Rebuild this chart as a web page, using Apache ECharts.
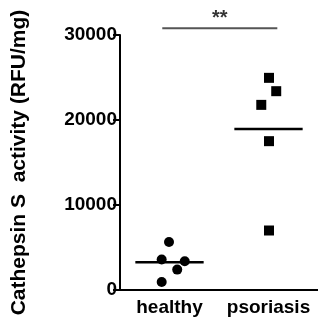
<!DOCTYPE html>
<html>
<head>
<meta charset="utf-8">
<script src="https://cdn.jsdelivr.net/npm/echarts@6/dist/echarts.min.js"></script>
<style>
  html, body { margin: 0; padding: 0; background: #fff; }
  #canvas { width: 318px; height: 321px; }
</style>
</head>
<body>
<div id="canvas"></div>
<script>
// groups on the x axis
const groups = ["healthy", "psoriasis"];
// per-point values
const healthyValues = [5650, 3580, 3390, 2400, 950];
const psoriasisValues = [24960, 23390, 21780, 17510, 7000];
// horizontal jitter of each point (fraction of a category width)
const healthyJitter = [0.495, 0.421, 0.654, 0.578, 0.421];
const psoriasisJitter = [1.505, 1.578, 1.427, 1.505, 1.505];
// group medians
const medians = [3270, 18930];
// significance bar
const sigFrom = 0.427, sigTo = 1.589, sigLevel = 30800, sigText = "**";

const font = "Liberation Sans, Arial, Helvetica, sans-serif";
const myChart = window.echarts.init(document.querySelector("#canvas"));

const medianSeries = medians.map((m, i) => ({
  type: "line",
  xAxisIndex: 1,
  symbol: "none",
  silent: true,
  lineStyle: { color: "#000", width: 2.5 },
  data: [[i + 0.5 - 0.345, m], [i + 0.5 + 0.345, m]]
}));

myChart.setOption({
  animation: false,
  grid: { left: 120, right: 0, top: 35, bottom: 31 },
  xAxis: [
    {
      type: "category",
      data: groups,
      axisLine: { lineStyle: { color: "#000", width: 2 } },
      axisTick: { alignWithLabel: true, length: 6, lineStyle: { color: "#000", width: 2 } },
      axisLabel: {
        interval: 0,
        hideOverlap: false,
        color: "#000", fontFamily: font, fontWeight: "bold", fontSize: 19, margin: 8
      }
    },
    { type: "value", min: 0, max: 2, show: false }
  ],
  yAxis: {
    type: "value",
    min: 0,
    max: 30000,
    interval: 10000,
    name: "Cathepsin S  activity (RFU/mg)",
    nameLocation: "middle",
    nameGap: 90,
    nameTextStyle: { color: "#000", fontFamily: font, fontWeight: "bold", fontSize: 21 },
    axisLine: { show: true, lineStyle: { color: "#000", width: 2 } },
    axisTick: { show: true, length: 7, lineStyle: { color: "#000", width: 2 } },
    axisLabel: {
      formatter: (v) => String(v),
      color: "#000", fontFamily: font, fontWeight: "bold", fontSize: 19, margin: 3
    },
    splitLine: { show: false }
  },
  series: [
    {
      type: "scatter",
      xAxisIndex: 1,
      symbol: "circle",
      symbolSize: 10,
      itemStyle: { color: "#000", opacity: 1 },
      data: healthyValues.map((v, i) => [healthyJitter[i], v])
    },
    {
      type: "scatter",
      xAxisIndex: 1,
      symbol: "rect",
      symbolSize: 10,
      itemStyle: { color: "#000", opacity: 1 },
      data: psoriasisValues.map((v, i) => [psoriasisJitter[i], v])
    },
    ...medianSeries,
    {
      type: "line",
      xAxisIndex: 1,
      symbol: "none",
      clip: false,
      lineStyle: { color: "#555", width: 2 },
      data: [[sigFrom, sigLevel], [sigTo, sigLevel]]
    },
    {
      type: "scatter",
      xAxisIndex: 1,
      symbolSize: 0,
      clip: false,
      label: {
        show: true,
        position: "top",
        distance: 0,
        formatter: sigText,
        color: "#000",
        fontFamily: font,
        fontWeight: "bold",
        fontSize: 20
      },
      data: [[(sigFrom + sigTo) / 2, sigLevel]]
    }
  ]
});
</script>
</body>
</html>
